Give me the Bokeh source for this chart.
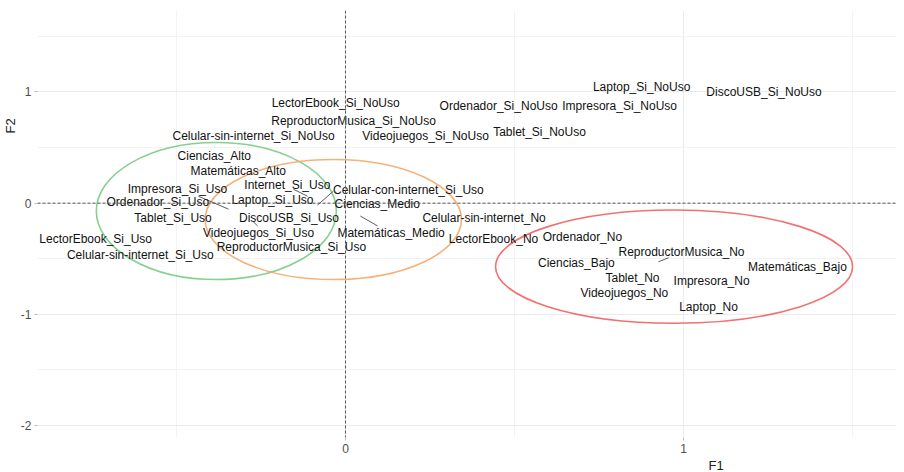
from bokeh.plotting import figure
from bokeh.models import Range1d, FixedTicker, Span, Title, ColumnDataSource
from bokeh.core.properties import value
from bokeh.embed import file_html
from bokeh.resources import INLINE

# ---- data ----
labels = [
    "Laptop_Si_NoUso", "DiscoUSB_Si_NoUso", "Ordenador_Si_NoUso", "Impresora_Si_NoUso",
    "Tablet_Si_NoUso", "Videojuegos_Si_NoUso", "LectorEbook_Si_NoUso",
    "ReproductorMusica_Si_NoUso", "Celular-sin-internet_Si_NoUso", "Ciencias_Alto",
    "Matemáticas_Alto", "Impresora_Si_Uso", "Internet_Si_Uso", "Celular-con-internet_Si_Uso",
    "Ordenador_Si_Uso", "Laptop_Si_Uso", "Ciencias_Medio", "Tablet_Si_Uso", "DiscoUSB_Si_Uso",
    "Celular-sin-internet_No", "Videojuegos_Si_Uso", "Matemáticas_Medio", "LectorEbook_No",
    "LectorEbook_Si_Uso", "ReproductorMusica_Si_Uso", "Celular-sin-internet_Si_Uso",
    "Ordenador_No", "ReproductorMusica_No", "Ciencias_Bajo", "Matemáticas_Bajo",
    "Tablet_No", "Impresora_No", "Videojuegos_No", "Laptop_No",
]
f1 = [0.876, 1.238, 0.453, 0.811, 0.574, 0.237, -0.029, 0.024, -0.272, -0.388,
      -0.317, -0.497, -0.172, 0.186, -0.555, -0.216, 0.094, -0.510, -0.167, 0.410,
      -0.257, 0.135, 0.438, -0.739, -0.160, -0.607, 0.701, 0.994, 0.683, 1.337,
      0.849, 1.083, 0.825, 1.074]
f2 = [1.048, 1.003, 0.869, 0.869, 0.637, 0.607, 0.900, 0.735, 0.607, 0.420,
      0.286, 0.125, 0.161, 0.119, 0.009, 0.030, -0.009, -0.134, -0.134, -0.134,
      -0.268, -0.268, -0.321, -0.321, -0.393, -0.470, -0.304, -0.438, -0.536, -0.571,
      -0.670, -0.696, -0.804, -0.938]

# repel segments: label side -> point
seg_x0 = [-0.435, -0.154, -0.036, -0.275, 0.044, 0.926]
seg_y0 = [0.062, 0.125, 0.107, -0.160, -0.116, -0.527]
seg_x1 = [-0.346, -0.112, -0.083, -0.260, 0.095, 0.956]
seg_y1 = [-0.054, 0.062, -0.018, -0.205, -0.205, -0.491]

# group ellipses (centre, full width, full height)
ell_x = [-0.382, -0.036, 0.972]
ell_y = [-0.071, -0.147, -0.571]
ell_w = [0.710, 0.758, 1.056]
ell_h = [1.232, 1.080, 1.018]
ell_col = ["#7acb84", "#f5a86a", "#f06262"]

x_major = [0, 1]
x_minor = [-0.5, 0.5, 1.5]
y_major = [-2, -1, 0, 1]
y_minor = [-1.5, -0.5, 0.5, 1.5]
y_tick_text = {-2: "-2", -1: "-1", 0: "0", 1: "1"}

FONT = "Liberation Sans"

p = figure(width=904, height=472, output_backend="svg", toolbar_location=None,
           x_range=Range1d(-0.911, 1.630), y_range=Range1d(-2.107, 1.732),
           min_border_left=37, min_border_right=8, min_border_top=10, min_border_bottom=32)
p.outline_line_color = None
p.background_fill_color = "white"
p.border_fill_color = "white"

for ax, maj, mnr in ((p.xaxis[0], x_major, x_minor), (p.yaxis[0], y_major, y_minor)):
    ax.ticker = FixedTicker(ticks=maj, minor_ticks=mnr)
    ax.axis_line_color = None
    ax.major_tick_line_color = "#bbbbbb"
    ax.major_tick_out = 3
    ax.major_tick_in = 0
    ax.minor_tick_line_color = None
    ax.major_label_text_font = FONT
    ax.major_label_text_font_size = "12px"
    ax.major_label_text_color = "#4d4d4d"
    ax.major_label_standoff = 2
p.yaxis[0].major_label_overrides = y_tick_text

for g in (p.xgrid[0], p.ygrid[0]):
    g.grid_line_color = "#ebebeb"
    g.grid_line_width = 1
    g.minor_grid_line_color = "#f3f3f3"
    g.minor_grid_line_width = 1

p.add_layout(Span(location=0, dimension="height", line_color="#555555",
                  line_dash="3 2", line_width=1))
p.add_layout(Span(location=0, dimension="width", line_color="#555555",
                  line_dash="3 2", line_width=1))

ell_src = ColumnDataSource(dict(x=ell_x, y=ell_y, w=ell_w, h=ell_h, c=ell_col))
p.ellipse(x="x", y="y", width="w", height="h", source=ell_src, fill_color=None,
          line_color="c", line_width=1.6, line_alpha=0.9)

p.segment(x0=seg_x0, y0=seg_y0, x1=seg_x1, y1=seg_y1, line_color="#333333", line_width=0.8)

src = ColumnDataSource(dict(x=f1, y=f2, t=labels))
p.text(x="x", y="y", text="t", source=src, text_align="center", text_baseline="middle",
       text_font=value(FONT), text_font_size="12px", text_color="#111111")

p.add_layout(Title(text="F1", align="left", offset=671, standoff=0, text_font=FONT,
                   text_font_size="13px", text_font_style="normal", text_color="#222222"),
             "below")
p.add_layout(Title(text="F2", align="left", offset=304, standoff=0, text_font=FONT,
                   text_font_size="13px", text_font_style="normal", text_color="#222222"),
             "left")

open("out.html", "w").write(file_html(p, INLINE))
